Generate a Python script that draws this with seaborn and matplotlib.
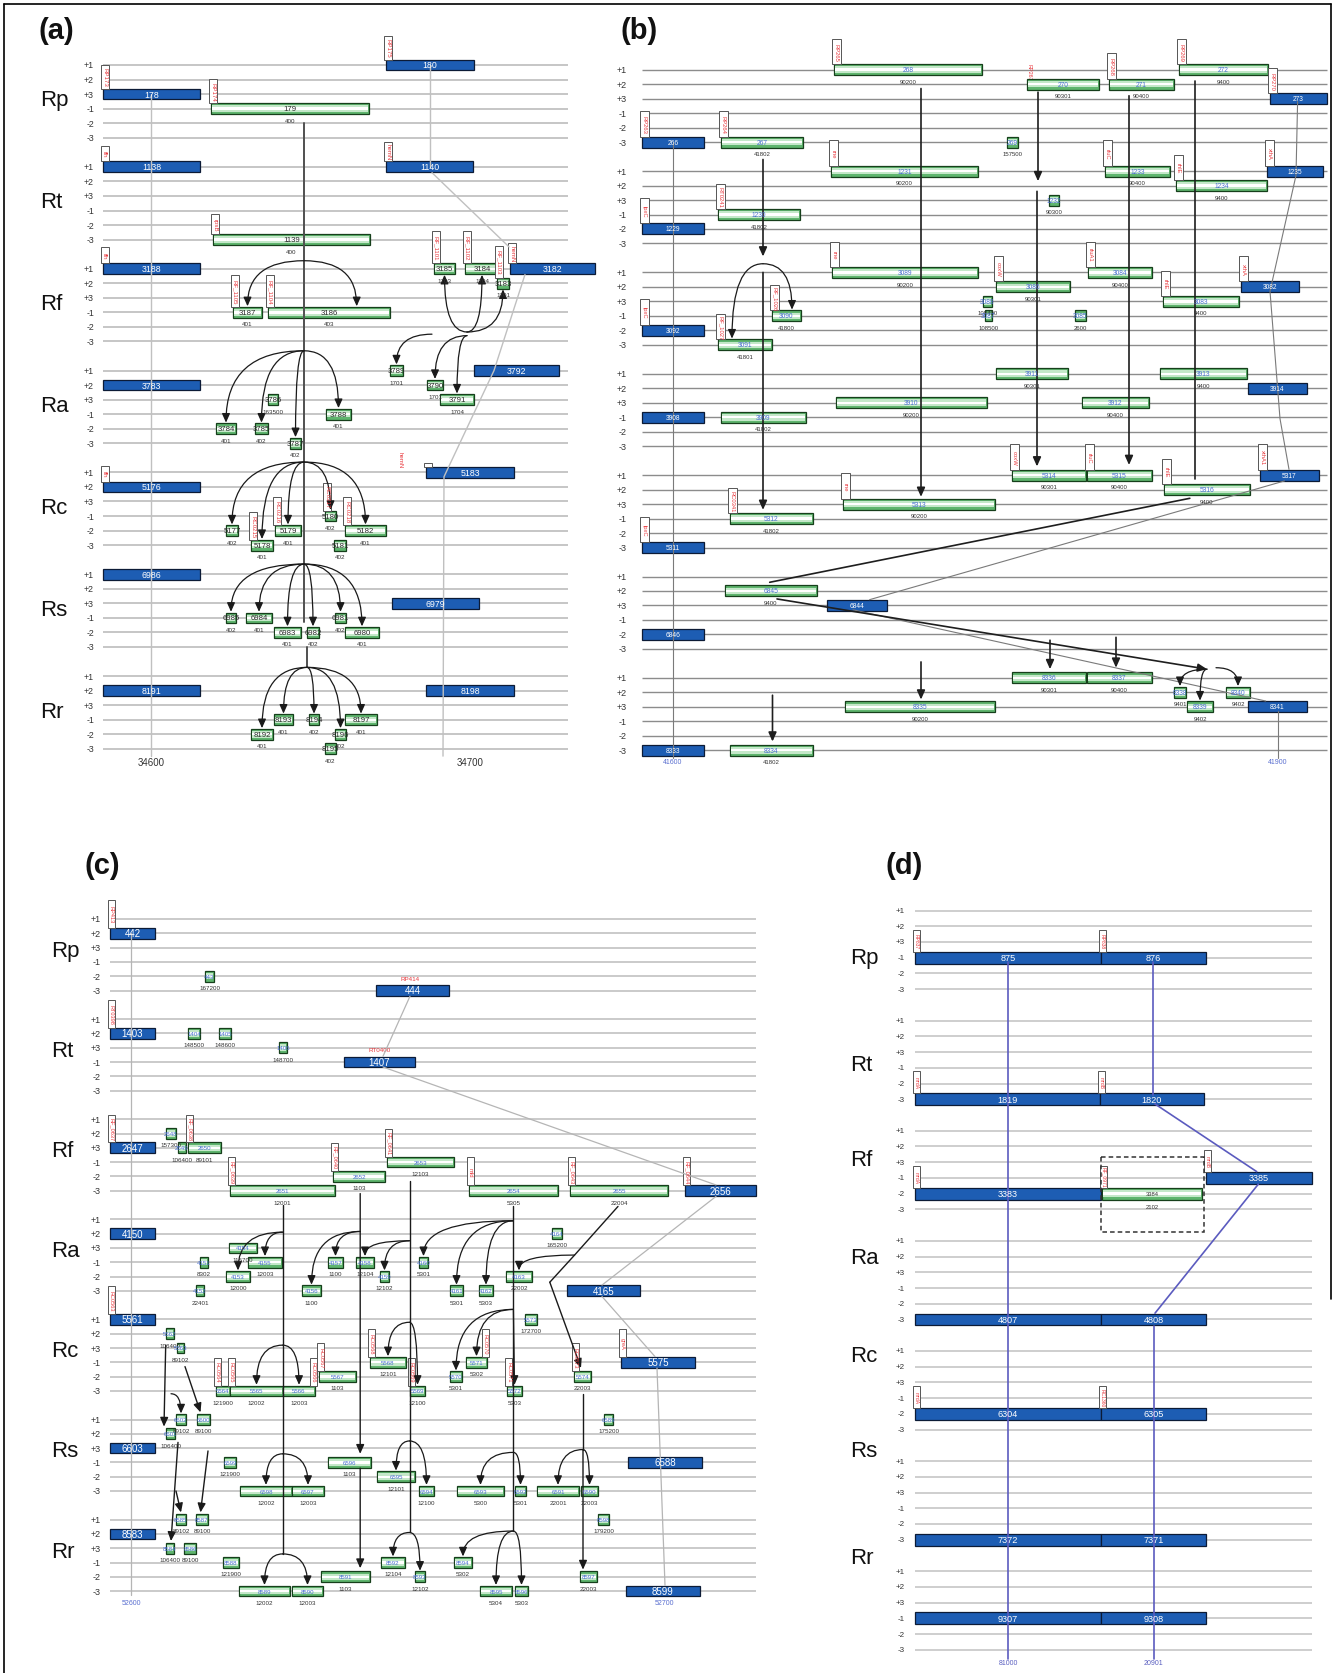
import numpy as np
import matplotlib
matplotlib.use('Agg')
import matplotlib.pyplot as plt
import seaborn as sns
from matplotlib.patches import Rectangle
from matplotlib.lines import Line2D

sns.set_theme(style='white')
plt.rcParams['font.family'] = ['Liberation Sans', 'DejaVu Sans']

W, H = 1335, 1674
SPECIES = ['Rp', 'Rt', 'Rf', 'Ra', 'Rc', 'Rs', 'Rr']
FRAMES = ['+1', '+2', '+3', '-1', '-2', '-3']

# ---------------- panel (a) ----------------
# species, frame, start, end, gene, kind (b=blue, g=green), sub label, tag
GENES_A = [
    (0, '+3', 103, 200, '178', 'b', None, 'RP173'),
    (0, '-1', 211, 369, '179', 'g', '400', 'RP174'),
    (0, '+1', 386, 474, '180', 'b', None, 'RP175'),
    (1, '+1', 103, 200, '1138', 'b', None, 'ffh'),
    (1, '+1', 386, 473, '1140', 'b', None, 'hemN'),
    (1, '-3', 213, 370, '1139', 'g', '400', 'rpsB'),
    (2, '+1', 103, 200, '3188', 'b', None, 'ffh'),
    (2, '+1', 434, 455, '3185', 'g', '1703', 'RF_1101'),
    (2, '+1', 465, 499, '3184', 'g', '1704', 'RF_1102'),
    (2, '+2', 497, 509, '3183', 'g', '1701', 'RF_1103'),
    (2, '+1', 510, 595, '3182', 'b', None, 'hemN'),
    (2, '-1', 233, 262, '3187', 'g', '401', 'RF_1105'),
    (2, '-1', 268, 390, '3186', 'g', '403', 'RF_1104'),
    (3, '+2', 103, 200, '3783', 'b', None, None),
    (3, '+1', 474, 559, '3792', 'b', None, None),
    (3, '+1', 390, 403, '3789', 'g', '1701', None),
    (3, '+2', 427, 443, '3790', 'g', '1701', None),
    (3, '+3', 440, 474, '3791', 'g', '1704', None),
    (3, '+3', 268, 278, '3786', 'g', '163500', None),
    (3, '-1', 326, 351, '3788', 'g', '401', None),
    (3, '-2', 216, 236, '3784', 'g', '401', None),
    (3, '-2', 255, 268, '3785', 'g', '402', None),
    (3, '-3', 290, 301, '3787', 'g', '402', None),
    (4, '+2', 103, 200, '5176', 'b', None, 'ffh'),
    (4, '+1', 426, 514, '5183', 'b', None, ''),
    (4, '-1', 325, 336, '5180', 'g', '402', 'RC0217'),
    (4, '-2', 226, 238, '5177', 'g', '402', None),
    (4, '-2', 275, 301, '5179', 'g', '401', 'RC0216'),
    (4, '-2', 345, 386, '5182', 'g', '401', 'RC0218'),
    (4, '-3', 251, 273, '5178', 'g', '401', 'RC0215'),
    (4, '-3', 334, 346, '5181', 'g', '402', None),
    (5, '+1', 103, 200, '6986', 'b', None, None),
    (5, '+3', 392, 479, '6979', 'b', None, None),
    (5, '-1', 226, 236, '6985', 'g', '402', None),
    (5, '-1', 246, 272, '6984', 'g', '401', None),
    (5, '-1', 335, 346, '6981', 'g', '402', None),
    (5, '-2', 274, 301, '6983', 'g', '401', None),
    (5, '-2', 307, 319, '6982', 'g', '402', None),
    (5, '-2', 345, 379, '6980', 'g', '401', None),
    (6, '+2', 103, 200, '8191', 'b', None, None),
    (6, '+2', 426, 514, '8198', 'b', None, None),
    (6, '-1', 274, 293, '8193', 'g', '401', None),
    (6, '-1', 309, 319, '8194', 'g', '402', None),
    (6, '-1', 345, 377, '8197', 'g', '401', None),
    (6, '-2', 251, 273, '8192', 'g', '401', None),
    (6, '-2', 335, 346, '8196', 'g', '402', None),
    (6, '-3', 325, 336, '8195', 'g', '402', None),
]
TICKS_A = [('34600', 151), ('34700', 470)]
GRAY_A = [
    [(151, 2), (151, 47.5)],
    [(430, 0), (430, 7)],
    [(432, 7.4), (509, 12.5)],
    [(525, 14.4), (494, 21), (444, 28.3), (443, 47.5)],
]
BLACK_A = [[(304, 4.0), (304, 38.3)], [(307, 40.0), (307, 41.4)]]
ARROWS_A = []
ARCS_A = [
    (304, 13.45, ['3187', ('3186', 356.7)]),
    (467, 18.35, ['3185', '3184', '3183']),
    (432, 18.5, ['3789']),
    (467, 18.6, ['3790', '3791']),
    (304, 19.64, ['3784', '3785', '3787', '3788']),
    (304, 27.29, ['5177', '5178', '5179', '5180', '5182']),
    (304, 34.3, ['6985', '6984', '6983', '6982', '6981', '6980']),
    (307, 41.4, ['8192', '8193', '8194', '8196', '8197']),
]
FLOAT_A = [('hemN', 400, 27.1, 270, 4.4)]

# ---------------- panel (b) ----------------
GENES_B = [
    (0, '+1', 834, 982, '268', 'g', '90200', 'RP265'),
    (0, '+2', 1027, 1099, '270', 'g', '90301', None),
    (0, '+2', 1109, 1174, '271', 'g', '90400', 'RP268'),
    (0, '+1', 1179, 1268, '272', 'g', '9400', 'RP269'),
    (0, '+3', 1270, 1327, '273', 'b', None, 'RP270'),
    (0, '-3', 642, 704, '266', 'b', None, 'RP263'),
    (0, '-3', 721, 803, '267', 'g', '41802', 'RP264'),
    (0, '-3', 1007, 1018, '269', 'g', '157500', None),
    (1, '+1', 831, 978, '1231', 'g', '90200', 'rne'),
    (1, '+1', 1105, 1170, '1233', 'g', '90400', 'rluC'),
    (1, '+2', 1176, 1267, '1234', 'g', '9400', 'rhlE'),
    (1, '+1', 1267, 1323, '1235', 'b', None, 'xthA'),
    (1, '+3', 1049, 1059, '1232', 'g', '90300', None),
    (1, '-1', 718, 800, '1230', 'g', '41802', 'RT0241'),
    (1, '-2', 642, 704, '1229', 'b', None, 'lpxC'),
    (2, '+1', 832, 978, '3089', 'g', '90200', 'rne'),
    (2, '+1', 1088, 1152, '3084', 'g', '90400', 'rluA1'),
    (2, '+2', 996, 1070, '3086', 'g', '90301', 'coxW'),
    (2, '+2', 1241, 1299, '3082', 'b', None, 'xthA'),
    (2, '+3', 1163, 1239, '3083', 'g', '9400', 'rhlE'),
    (2, '+3', 983, 992, '3088', 'g', '108400', None),
    (2, '-1', 985, 992, '3087', 'g', '108500', None),
    (2, '-1', 1075, 1086, '3085', 'g', '2600', None),
    (2, '-1', 772, 801, '3090', 'g', '41800', 'RF_1026'),
    (2, '-2', 642, 704, '3092', 'b', None, 'lpxC'),
    (2, '-3', 718, 772, '3091', 'g', '41801', 'RF_1027'),
    (3, '+1', 996, 1068, '3911', 'g', '90301', None),
    (3, '+1', 1160, 1247, '3913', 'g', '9400', None),
    (3, '+2', 1248, 1307, '3914', 'b', None, None),
    (3, '+3', 836, 987, '3910', 'g', '90200', None),
    (3, '+3', 1082, 1149, '3912', 'g', '90400', None),
    (3, '-1', 642, 704, '3908', 'b', None, None),
    (3, '-1', 721, 806, '3909', 'g', '41802', None),
    (4, '+1', 1012, 1086, '5314', 'g', '90301', 'coxW'),
    (4, '+1', 1087, 1152, '5315', 'g', '90400', 'rluC'),
    (4, '+1', 1260, 1319, '5317', 'b', None, 'xthA1'),
    (4, '+2', 1164, 1250, '5316', 'g', '9400', 'rhlE'),
    (4, '+3', 843, 995, '5313', 'g', '90200', 'rne'),
    (4, '-1', 730, 813, '5312', 'g', '41802', 'RC0341'),
    (4, '-3', 642, 704, '5311', 'b', None, 'lpxC'),
    (5, '+2', 725, 817, '6845', 'g', '9400', None),
    (5, '+3', 827, 887, '6844', 'b', None, None),
    (5, '-2', 642, 704, '6846', 'b', None, None),
    (6, '+1', 1012, 1086, '8336', 'g', '90301', None),
    (6, '+1', 1087, 1152, '8337', 'g', '90400', None),
    (6, '+2', 1174, 1186, '8338', 'g', '9401', None),
    (6, '+2', 1226, 1250, '8340', 'g', '9402', None),
    (6, '+3', 845, 995, '8335', 'g', '90200', None),
    (6, '+3', 1187, 1213, '8339', 'g', '9402', None),
    (6, '+3', 1248, 1307, '8341', 'b', None, None),
    (6, '-3', 642, 704, '8333', 'b', None, None),
    (6, '-3', 730, 813, '8334', 'g', '41802', None),
]
TICKS_B = [('41600', 673), ('41900', 1277.5)]
GRAY_B = [
    [(673, 5), (673, 47.5)],
    [(1297.6, 2.2), (1296, 7.3), (1270, 15.3), (1280, 24.1), (1289, 27.6)],
    [(1284.5, 28.4), (869.6, 36.6)],
    [(853, 37.3), (1265.7, 43.6)],
    [(1277.5, 44.3), (1277.5, 47.5)],
]
BLACK_B = [[(1194.5, 0.76), (1194.5, 28.3)], [(1189.8, 29.6), (769.7, 35.4)]]
ARROWS_B = [
    (921, 1.3, 921, 29.5), (921, 40.9, 921, 43.5),
    (763, 6.2, 763, 12.9), (763, 14.0, 763, 30.4), (772.5, 43.2, 772.5, 46.4),
    (1038, 1.55, 1038, 7.7), (1037, 8.4, 1037, 27.4), (1050, 39.4, 1050, 41.4),
    (1129, 1.8, 1129, 27.3), (1116, 39.2, 1116, 41.3),
    (777, 36.55, 1207, 41.4),
]
ARCS_B = [
    (763, 13.4, [('3091', 732), ('3090', 792)]),
    (1207, 41.4, ['8338', '8339']),
    (1216, 41.3, ['8340']),
]
FLOAT_B = [('RP267', 1029, 0.1, 270, 4.0)]

# ---------------- panel (c) ----------------
GENES_C = [
    (0, '+2', 110, 155, '442', 'b', None, 'RP413'),
    (0, '-2', 205, 214, '443', 'g', '167200', None),
    (0, '-3', 376, 449, '444', 'b', None, None),
    (1, '+2', 110, 155, '1403', 'b', None, 'RT0398'),
    (1, '+2', 188, 200, '1404', 'g', '148500', None),
    (1, '+2', 219, 231, '1405', 'g', '148600', None),
    (1, '+3', 279, 287, '1406', 'g', '148700', None),
    (1, '-1', 344, 415, '1407', 'b', None, None),
    (2, '+3', 110, 155, '2647', 'b', None, 'RF_0637'),
    (2, '+2', 166, 176, '2648', 'g', '157300', None),
    (2, '+3', 178, 186, '2649', 'g', '106400', None),
    (2, '+3', 188, 221, '2650', 'g', '89101', 'RF_0638'),
    (2, '-3', 230, 335, '2651', 'g', '12001', 'RF_0639'),
    (2, '-2', 333, 385, '2652', 'g', '1103', 'RF_0640'),
    (2, '-1', 387, 454, '2653', 'g', '12103', 'RF_0641'),
    (2, '-3', 469, 558, '2654', 'g', '5305', 'mfd'),
    (2, '-3', 570, 668, '2655', 'g', '22004', 'RF_0643'),
    (2, '-3', 685, 756, '2656', 'b', None, 'RF_0644'),
    (3, '+2', 110, 155, '4150', 'b', None, None),
    (3, '+3', 229, 257, '4154', 'g', '115700', None),
    (3, '-1', 200, 208, '4151', 'g', '8302', None),
    (3, '-1', 248, 282, '4155', 'g', '12003', None),
    (3, '-2', 226, 250, '4153', 'g', '12000', None),
    (3, '-3', 196, 204, '4152', 'g', '22401', None),
    (3, '-1', 328, 343, '4157', 'g', '1100', None),
    (3, '-1', 356, 374, '4158', 'g', '12104', None),
    (3, '-2', 380, 389, '4159', 'g', '12102', None),
    (3, '-3', 302, 321, '4156', 'g', '1100', None),
    (3, '-1', 419, 428, '4160', 'g', '5301', None),
    (3, '-3', 450, 463, '4161', 'g', '5301', None),
    (3, '-3', 479, 493, '4162', 'g', '5303', None),
    (3, '-2', 506, 532, '4163', 'g', '22002', None),
    (3, '+2', 552, 562, '4164', 'g', '165200', None),
    (3, '-3', 567, 640, '4165', 'b', None, None),
    (4, '+1', 110, 155, '5561', 'b', None, 'RC0563'),
    (4, '+2', 166, 174, '5562', 'g', '106400', None),
    (4, '+3', 177, 184, '5563', 'g', '89102', None),
    (4, '-3', 216, 230, '5564', 'g', '121900', 'RC0564'),
    (4, '-3', 230, 283, '5565', 'g', '12002', 'RC0565'),
    (4, '-3', 283, 315, '5566', 'g', '12003', 'RC0566'),
    (4, '-2', 319, 356, '5567', 'g', '1103', 'RC0567'),
    (4, '-1', 370, 406, '5568', 'g', '12101', 'RC0568'),
    (4, '-3', 410, 425, '5569', 'g', '12100', 'RC0569'),
    (4, '-2', 450, 462, '5570', 'g', '5301', None),
    (4, '-1', 466, 487, '5571', 'g', '5302', 'RC0570'),
    (4, '-3', 507, 522, '5572', 'g', '5303', 'RC0571'),
    (4, '+1', 525, 537, '5573', 'g', '172700', None),
    (4, '-2', 574, 591, '5574', 'g', '22003', 'RC0573'),
    (4, '-1', 621, 695, '5575', 'b', None, 'greA'),
    (5, '+3', 110, 155, '6603', 'b', None, None),
    (5, '+1', 176, 186, '6602', 'g', '89102', None),
    (5, '+1', 197, 210, '6600', 'g', '89100', None),
    (5, '+2', 166, 175, '6601', 'g', '106400', None),
    (5, '-1', 224, 236, '6599', 'g', '121900', None),
    (5, '-3', 240, 292, '6598', 'g', '12002', None),
    (5, '-3', 292, 324, '6597', 'g', '12003', None),
    (5, '-1', 328, 371, '6596', 'g', '1103', None),
    (5, '-2', 377, 415, '6595', 'g', '12101', None),
    (5, '-3', 419, 434, '6594', 'g', '12100', None),
    (5, '-3', 457, 504, '6593', 'g', '5300', None),
    (5, '-3', 515, 526, '6592', 'g', '5301', None),
    (5, '-3', 537, 579, '6591', 'g', '22001', None),
    (5, '-3', 581, 598, '6590', 'g', '22003', None),
    (5, '+1', 604, 613, '6589', 'g', '175200', None),
    (5, '-1', 628, 702, '6588', 'b', None, None),
    (6, '+2', 110, 155, '8583', 'b', None, None),
    (6, '+1', 176, 186, '8585', 'g', '89102', None),
    (6, '+1', 196, 208, '8587', 'g', '89100', None),
    (6, '+3', 166, 174, '8584', 'g', '106400', None),
    (6, '+3', 184, 196, '8586', 'g', '89100', None),
    (6, '-1', 223, 239, '8588', 'g', '121900', None),
    (6, '-3', 239, 290, '8589', 'g', '12002', None),
    (6, '-3', 292, 323, '8590', 'g', '12003', None),
    (6, '-2', 321, 370, '8591', 'g', '1103', None),
    (6, '-1', 381, 405, '8592', 'g', '12104', None),
    (6, '-2', 415, 425, '8593', 'g', '12102', None),
    (6, '-1', 454, 472, '8594', 'g', '5302', None),
    (6, '-3', 480, 512, '8595', 'g', '5304', None),
    (6, '-3', 515, 528, '8596', 'g', '5303', None),
    (6, '-2', 580, 597, '8597', 'g', '22003', None),
    (6, '+1', 598, 609, '8598', 'g', '179200', None),
    (6, '-3', 626, 700, '8599', 'b', None, None),
]
TAG_AT_END = {'5566', '5571'}
TICKS_C = [('52600', 131), ('52700', 664)]
GRAY_C = [
    [(131, 1), (131, 47.3)],
    [(410, 5.4), (383, 9.6)],
    [(383, 10.35), (716, 18.6)],
    [(716, 19.4), (602, 25.6)],
    [(602, 26.4), (655, 30.6)],
    [(657, 31.4), (665, 46.6)],
]
BLACK_C = [
    [(282.6, 20.0), (282.6, 44.4)],
    [(409.5, 18.3), (409.5, 42.9)],
    [(513.4, 20.05), (513.4, 42.8)],
    [(618, 20.1), (574.6, 23.5), (549.8, 25.4)],
    [(583, 33.2), (583, 37.1)],
]
ARROWS_C = [
    (360.2, 19.2, 360.2, 37.4), (360.2, 38.4, 360.2, 45.4),
    (549.8, 25.4, 581, 31.4), (583, 37.1, 583, 45.5),
    (165.7, 29.8, 164, 35.5), (185, 31.3, 200.5, 34.5),
    (178, 36.6, 171, 43.5), (176, 40.0, 181, 41.5), (208, 37.2, 200.5, 41.5),
]
ARCS_C = [
    (282.6, 21.9, ['4155', '4153']),
    (282.6, 29.8, ['5565', '5566']),
    (282.6, 37.4, ['6598', '6597']),
    (282.6, 44.4, ['8589', '8590']),
    (360.2, 21.85, ['4156', '4157']),
    (409.5, 22.5, ['4158', '4159']),
    (409.5, 28.2, ['5568', '5569']),
    (409.5, 36.5, ['6595', '6594']),
    (409.5, 42.9, ['8592', '8593']),
    (513.4, 21.1, ['4160', '4161', '4162']),
    (513.4, 27.3, ['5570', '5571', '5572']),
    (513.4, 37.3, ['6593', '6592']),
    (513.4, 42.8, ['8594', '8595', '8596']),
    (574.6, 23.5, ['4163']),
    (583, 37.1, ['6591', '6590']),
    (171, 33.2, ['6602']),
]
FLOAT_C = [('RP414', 410, 4.15, 0, 4.5), ('RT0400', 380, 9.14, 0, 4.5)]

# ---------------- panel (d) ----------------
GENES_D = [
    (0, '-1', 915, 1101, '875', 'b', None, 'RP837'),
    (0, '-1', 1101, 1206, '876', 'b', None, 'RP838'),
    (1, '-3', 915, 1100, '1819', 'b', None, 'mrdA'),
    (1, '-3', 1100, 1204, '1820', 'b', None, 'mrdB'),
    (2, '-2', 915, 1101, '3383', 'b', None, 'mrdA'),
    (2, '-2', 1102, 1202, '3384', 'g', '2102', 'RF_0971'),
    (2, '-1', 1206, 1312, '3385', 'b', None, 'mrdB'),
    (3, '-3', 915, 1101, '4807', 'b', None, None),
    (3, '-3', 1101, 1206, '4808', 'b', None, None),
    (4, '-2', 915, 1101, '6304', 'b', None, 'mrdA'),
    (4, '-2', 1101, 1206, '6305', 'b', None, 'RC1360'),
    (5, '-3', 915, 1101, '7372', 'b', None, None),
    (5, '-3', 1101, 1206, '7371', 'b', None, None),
    (6, '-1', 915, 1101, '9307', 'b', None, None),
    (6, '-1', 1101, 1206, '9308', 'b', None, None),
]
TICKS_D = [('81000', 1008.3), ('20901', 1153.3)]
BLUE_D = [
    [(1008.3, 3.3), (1008.3, 47.6)],
    [(1153.3, 3.3), (1153.3, 11.7)],
    [(1155, 12.3), (1256.7, 16.6)],
    [(1258.3, 17.4), (1155, 25.6)],
    [(1154, 26.4), (1154, 47.6)],
]
DASHED_D = [(1100.7, 1204, 15.65, 20.43)]

PANELS = [
    dict(box=(0, 600, 0, 800), top=66, step=14.55, track=(102.6, 568), frame_x=94,
         species_x=40, species_rows=[s * 7 + 2.4 for s in range(7)], label='(a)', label_x=38, label_y=-2.4,
         bar_h=0.74, tag_w=7.6, tag_h=None, line_c='#c6c6c6', line_w=1.4,
         fs_blue=6.3, fs_green=5.6, green_tc='#2b2b2b', fs_sub=4.5, fs_frame=6.3, fs_tag=4.4,
         tick_row=47.9, tick_fs=7.0, tick_c='#333333',
         genes=GENES_A, ticks=TICKS_A, gray=GRAY_A, gray_c='#c0c0c0', gray_w=1.0,
         black=BLACK_A, black_c='#505050', black_w=1.4, arrows=ARROWS_A, arcs=ARCS_A, floats=FLOAT_A,
         dashed=[]),
    dict(box=(600, 1335, 0, 800), top=70.7, step=14.48, track=(642, 1326.7), frame_x=627,
         species_x=None, species_rows=None, label='(b)', label_x=620, label_y=-2.74,
         bar_h=0.76, tag_w=8.5, tag_h=1.75, line_c='#8c8c8c', line_w=1.0,
         fs_blue=4.8, fs_green=4.8, green_tc='#4a6fd0', fs_sub=4.3, fs_frame=6.5, fs_tag=4.2,
         tick_row=47.8, tick_fs=5.0, tick_c='#5a6fd0',
         genes=GENES_B, ticks=TICKS_B, gray=GRAY_B, gray_c='#7a7a7a', gray_w=0.8,
         black=BLACK_B, black_c='#1e1e1e', black_w=1.2, arrows=ARROWS_B, arcs=ARCS_B, floats=FLOAT_B,
         dashed=[]),
    dict(box=(0, 860, 800, 1674), top=920, step=14.3, track=(109.5, 756), frame_x=101,
         species_x=51, species_rows=[s * 7 + 2.2 for s in range(7)], label='(c)', label_x=84, label_y=-3.78,
         bar_h=0.75, tag_w=7.0, tag_h=1.95, line_c='#c6c6c6', line_w=1.3,
         fs_blue=7.0, fs_green=4.4, green_tc='#4a6fd0', fs_sub=4.5, fs_frame=6.5, fs_tag=4.1,
         tick_row=47.8, tick_fs=5.0, tick_c='#5a6fd0',
         genes=GENES_C, ticks=TICKS_C, gray=GRAY_C, gray_c='#b5b5b5', gray_w=0.9,
         black=BLACK_C, black_c='#1a1a1a', black_w=1.0, arrows=ARROWS_C, arcs=ARCS_C, floats=FLOAT_C,
         dashed=[]),
    dict(box=(860, 1335, 800, 1674), top=911.5, step=15.73, track=(915, 1311.7), frame_x=905,
         species_x=850, species_rows=[3.0, 9.76, 15.8, 22.05, 28.3, 34.35, 41.1], label='(d)',
         label_x=885, label_y=-2.9,
         bar_h=0.76, tag_w=7.0, tag_h=1.4, line_c='#c6c6c6', line_w=1.2,
         fs_blue=6.6, fs_green=4.2, green_tc='#333333', fs_sub=4.2, fs_frame=5.8, fs_tag=3.6,
         tick_row=47.8, tick_fs=5.0, tick_c='#5a5fc0',
         genes=GENES_D, ticks=TICKS_D, gray=BLUE_D, gray_c='#5b5bbf', gray_w=1.2,
         black=[], black_c='#1a1a1a', black_w=1.0, arrows=[], arcs=[], floats=[],
         dashed=DASHED_D),
]


def draw_genes(ax, cfg):
    pos = {}
    h = cfg['bar_h']
    for sp, fr, x0, x1, name, kind, sub, tag in cfg['genes']:
        y = sp * 7 + FRAMES.index(fr)
        pos[name] = (x0, x1, y)
        w = x1 - x0
        if kind == 'b':
            ax.barh(y, w, left=x0, height=h, color='#1d5db3', edgecolor='#0c1b36',
                    linewidth=0.9, zorder=4)
            tc, fs = 'white', cfg['fs_blue']
        else:
            ax.barh(y, w, left=x0, height=h, color='#5fb56e', edgecolor='#163f1b',
                    linewidth=0.9, zorder=4)
            ax.barh(y, w - 1.4, left=x0 + 0.7, height=h * 0.6, color='#c4e8c9',
                    linewidth=0, zorder=4.5)
            ax.barh(y, w - 1.4, left=x0 + 0.7, height=h * 0.22, color='white',
                    linewidth=0, zorder=4.6)
            tc, fs = cfg['green_tc'], cfg['fs_green']
        ax.text(x0 + w / 2, y, name, color=tc, fontsize=fs, ha='center', va='center', zorder=8)
        if sub:
            ax.text(x0 + w / 2, y + h / 2 + 0.42, sub, fontsize=cfg['fs_sub'], color='#333333',
                    ha='center', va='center', zorder=8)
        if tag is not None:
            th = cfg['tag_h'] or (0.28 * len(tag) + 0.25)
            tw = cfg['tag_w']
            tx = (x1 - tw + 2) if name in TAG_AT_END else (x0 - 2)
            ax.add_patch(Rectangle((tx, y - h / 2 - th), tw, th, facecolor='white',
                                   edgecolor='#555555', linewidth=0.7, zorder=5))
            if tag:
                ax.text(tx + tw / 2, y - h / 2 - th / 2, tag, rotation=270, color='#e8383d',
                        fontsize=cfg['fs_tag'], ha='center', va='center', zorder=8)
    return pos


def draw_panel(fig, cfg):
    X0, X1, Y0, Y1 = cfg['box']
    ax = fig.add_axes([X0 / W, 1 - Y1 / H, (X1 - X0) / W, (Y1 - Y0) / H])
    ax.set_xlim(X0, X1)
    ax.set_ylim((Y1 - cfg['top']) / cfg['step'], (Y0 - cfg['top']) / cfg['step'])
    ax.axis('off')

    rows = [s * 7 + f for s in range(7) for f in range(6)]
    ax.hlines(rows, cfg['track'][0], cfg['track'][1], color=cfg['line_c'],
              linewidth=cfg['line_w'], zorder=1)
    for r in rows:
        ax.text(cfg['frame_x'], r, FRAMES[r % 7], ha='right', va='center',
                fontsize=cfg['fs_frame'], color='#333333')
    if cfg['species_x'] is not None:
        for name, r in zip(SPECIES, cfg['species_rows']):
            ax.text(cfg['species_x'], r, name, ha='left', va='center', fontsize=16, color='#111111')
    ax.text(cfg['label_x'], cfg['label_y'], cfg['label'], ha='left', va='center',
            fontsize=21, fontweight='bold', color='#111111')

    pos = draw_genes(ax, cfg)

    for line in cfg['gray']:
        xs, ys = zip(*line)
        ax.plot(xs, ys, color=cfg['gray_c'], linewidth=cfg['gray_w'], zorder=6)
    for line in cfg['black']:
        xs, ys = zip(*line)
        ax.plot(xs, ys, color=cfg['black_c'], linewidth=cfg['black_w'], zorder=6)
    for x0, y0, x1, y1 in cfg['arrows']:
        ax.annotate('', xy=(x1, y1), xytext=(x0, y0), zorder=6,
                    arrowprops=dict(arrowstyle='-|>,head_length=0.45,head_width=0.2',
                                    color=cfg['black_c'], lw=cfg['black_w'],
                                    shrinkA=0, shrinkB=0))
    h = cfg['bar_h']
    for hx, hy, targets in cfg['arcs']:
        for t in targets:
            if isinstance(t, tuple):
                name, tx = t
            else:
                name = t
                tx = (pos[name][0] + pos[name][1]) / 2
            gy = pos[name][2]
            ty = gy - h / 2 - 0.05 if gy > hy else gy + h / 2 + 0.05
            style = 'angle3,angleA=0,angleB=90' if abs(tx - hx) > 2 else 'arc3,rad=0'
            ax.annotate('', xy=(tx, ty), xytext=(hx, hy), zorder=6,
                        arrowprops=dict(arrowstyle='-|>,head_length=0.45,head_width=0.2',
                                        connectionstyle=style, color='#1a1a1a', lw=0.9,
                                        shrinkA=0, shrinkB=0))
    for bx0, bx1, by0, by1 in cfg['dashed']:
        ax.add_patch(Rectangle((bx0, by0), bx1 - bx0, by1 - by0, fill=False,
                               edgecolor='#333333', linestyle=(0, (3, 2)), linewidth=1.1, zorder=7))
    for txt, x, y, rot, fs in cfg['floats']:
        ax.text(x, y, txt, rotation=rot, color='#e8383d', fontsize=fs, ha='center', va='center')
    for lab, x in cfg['ticks']:
        ax.text(x, cfg['tick_row'], lab, ha='center', va='center', fontsize=cfg['tick_fs'],
                color=cfg['tick_c'])
    return ax


fig = plt.figure(figsize=(W / 100, H / 100), dpi=100)
fig.patch.set_facecolor('white')
for cfg in PANELS:
    draw_panel(fig, cfg)

x0, x1 = 4 / W, 1331 / W
ytop = 1 - 5 / H
fig.add_artist(Line2D([x0, x1], [ytop, ytop], color='black', lw=1.2, transform=fig.transFigure))
fig.add_artist(Line2D([x0, x0], [0, ytop], color='black', lw=1.2, transform=fig.transFigure))
fig.add_artist(Line2D([x1, x1], [1 - 1300 / H, ytop], color='black', lw=1.2, transform=fig.transFigure))

fig.savefig('out.png', dpi=100, facecolor='white')
plt.close(fig)
